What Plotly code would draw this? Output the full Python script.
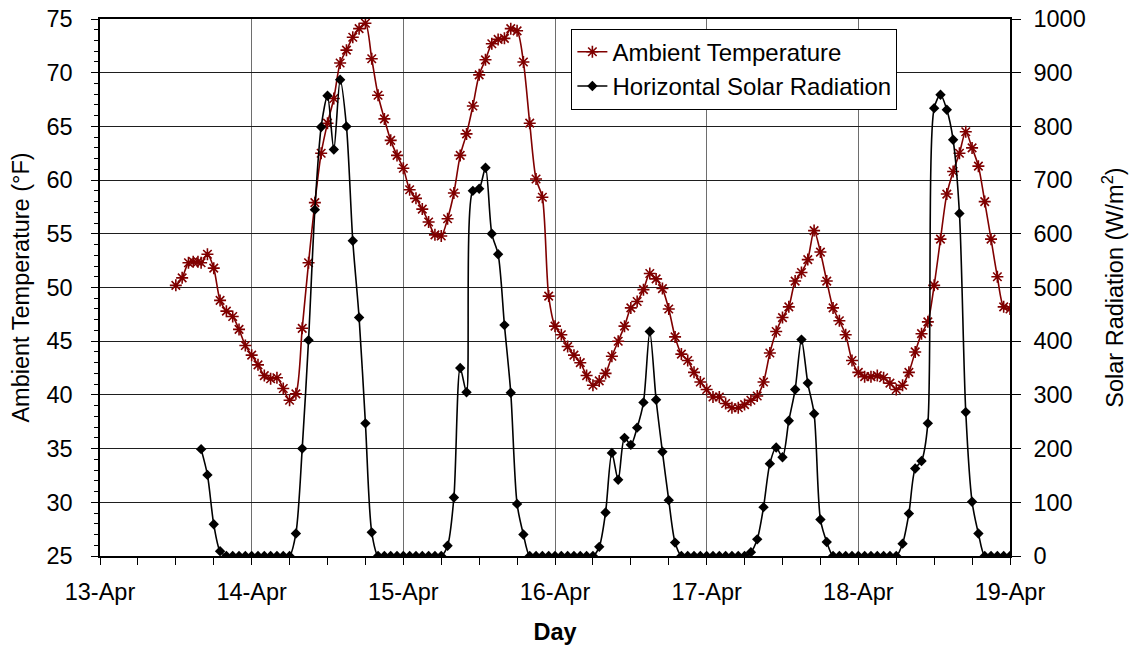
import plotly.graph_objects as go

# Hours since 13-Apr 00:00
temp_hours = [12, 13, 14, 14.75, 15.5, 16, 17, 18, 19, 20, 21, 22, 23, 24, 25, 26, 27, 28, 29, 30,
              31, 32, 33, 34, 35, 36, 37, 38, 39, 40, 41, 42, 43, 44, 45, 46, 47, 48, 49, 50,
              51, 52, 53, 54, 55, 56, 57, 58, 59, 60, 61, 62, 63, 64, 65, 66, 67, 68, 69, 70,
              71, 72, 73, 74, 75, 76, 77, 78, 79, 80, 81, 82, 83, 84, 85, 86, 87, 88, 89, 90,
              91, 92, 93, 94, 95, 96, 97, 98, 99, 100, 101, 102, 103, 104, 105, 106, 107, 108, 109, 110,
              111, 112, 113, 114, 115, 116, 117, 118, 119, 120, 121, 122, 123, 124, 125, 126, 127, 128, 129, 130,
              131, 132, 133, 134, 135, 136, 137, 138, 139, 140, 141, 142, 143, 144]
temp_values = [50.2, 50.9, 52.3, 52.4, 52.4, 52.3, 53.1, 51.8, 48.8, 47.8, 47.3, 46.1, 44.6, 43.7, 42.8, 41.8, 41.5, 41.6, 40.6, 39.5,
               40.1, 46.2, 52.3, 57.9, 62.5, 65.3, 67.6, 70.9, 72.1, 73.3, 74.1, 74.6, 71.3, 67.9, 65.7, 63.7, 62.3, 61.1, 59.1, 58.3,
               57.3, 56.1, 54.9, 54.8, 56.4, 58.8, 62.3, 64.3, 66.9, 69.8, 71.2, 72.7, 73.1, 73.2, 74.1, 73.9, 71.0, 65.3, 60.1, 58.4,
               49.2, 46.4, 45.6, 44.5, 43.7, 43.0, 41.8, 40.9, 41.3, 42.0, 43.6, 45.0, 46.4, 48.1, 48.7, 49.8, 51.3, 50.8, 49.9, 48.0,
               45.4, 43.8, 43.2, 42.1, 41.2, 40.5, 39.8, 39.8, 39.2, 38.8, 38.8, 39.1, 39.5, 39.9, 41.2, 43.9, 45.9, 47.2, 48.2, 50.6,
               51.4, 52.6, 55.3, 53.3, 50.6, 48.1, 46.9, 45.6, 43.2, 42.1, 41.7, 41.7, 41.8, 41.6, 41.1, 40.5, 40.9, 42.1, 44.0, 45.7,
               46.8, 50.2, 54.5, 58.7, 60.8, 62.5, 64.5, 63.0, 61.3, 58.0, 54.5, 51.0, 48.2, 48.0]

solar_hours = list(range(16, 145))
solar_values = [199, 151, 59, 9, 0, 0, 0, 0, 0, 0, 0, 0, 0, 0, 0,
                42, 200, 402, 645, 799, 857, 757, 887, 800, 587, 444, 247, 44,
                0, 0, 0, 0, 0, 0, 0, 0, 0, 0, 0,
                19, 109, 350, 305, 680, 684, 723, 600, 562, 430, 304, 97, 40,
                0, 0, 0, 0, 0, 0, 0, 0, 0, 0, 0,
                17, 81, 192, 142, 220, 207, 239, 286, 418, 291, 194, 104, 25,
                0, 0, 0, 0, 0, 0, 0, 0, 0, 0, 0,
                7, 31, 91, 172, 202, 184, 252, 310, 403, 322, 265, 68, 26,
                0, 0, 0, 0, 0, 0, 0, 0, 0, 0, 0,
                23, 79, 163, 177, 247, 834, 859, 831, 775, 638, 268, 101, 42,
                0, 0, 0, 0, 0]

day_ticks = [0, 24, 48, 72, 96, 120, 144]
day_labels = ["13-Apr", "14-Apr", "15-Apr", "16-Apr", "17-Apr", "18-Apr", "19-Apr"]

FONT = "Arial, Liberation Sans, sans-serif"
RED = "#800000"
FS = 23.5

fig = go.Figure()
fig.add_trace(go.Scatter(
    x=temp_hours, y=temp_values, name="Ambient Temperature",
    mode="lines+markers", line=dict(color=RED, width=1.6, shape="spline", smoothing=0.8),
    marker=dict(symbol="asterisk-open", size=10, color=RED, line=dict(color=RED, width=1.6)),
    yaxis="y"))
fig.add_trace(go.Scatter(
    x=solar_hours, y=solar_values, name="Horizontal Solar Radiation",
    mode="lines+markers", line=dict(color="black", width=1.6, shape="spline", smoothing=0.8),
    marker=dict(symbol="diamond", size=8, color="black"),
    yaxis="y2"))

fig.update_layout(
    width=1131, height=648,
    margin=dict(l=100, r=121, t=19, b=92),
    paper_bgcolor="white", plot_bgcolor="white",
    font=dict(family=FONT, size=FS, color="black"),
    showlegend=True,
    legend=dict(x=0.518, y=0.982, xanchor="left", yanchor="top",
                bgcolor="white", bordercolor="black", borderwidth=1,
                tracegroupgap=0, itemwidth=30,
                font=dict(size=24, family=FONT)),
    xaxis=dict(range=[0, 144], tickmode="array", tickvals=day_ticks, ticktext=day_labels,
               showgrid=True, gridcolor="#6e6e6e", gridwidth=1, automargin=False,
               showline=True, linecolor="black", linewidth=1.5, mirror=True,
               ticks="outside", ticklen=7, tickcolor="black",
               minor=dict(tick0=0, dtick=6, ticks="outside", ticklen=7, tickcolor="black", showgrid=False),
               tickfont=dict(size=FS), zeroline=False, ticklabelstandoff=7,
               title=dict(text="<b>Day</b>", font=dict(size=FS), standoff=20)),
    yaxis=dict(range=[25, 75], dtick=5, tick0=25, automargin=False,
               showgrid=True, gridcolor="#1e1e1e", gridwidth=1,
               showline=True, linecolor="black", linewidth=1.5,
               ticks="outside", ticklen=7, tickcolor="black",
               minor=dict(dtick=1, ticks="outside", ticklen=4, tickcolor="black", showgrid=False),
               tickfont=dict(size=FS), zeroline=False, ticklabelstandoff=14,
               title=dict(text="Ambient Temperature (°F)", font=dict(size=FS), standoff=10)),
    yaxis2=dict(range=[0, 1000], dtick=100, overlaying="y", side="right", automargin=False,
                showgrid=False, showline=True, linecolor="black", linewidth=1.5,
                ticks="outside", ticklen=9, tickcolor="black",
                tickfont=dict(size=FS), zeroline=False, ticklabelstandoff=8,
                title=dict(text="Solar Radiation (W/m<sup>2</sup>)", font=dict(size=FS), standoff=22)),
)

fig.write_html("out.html")
